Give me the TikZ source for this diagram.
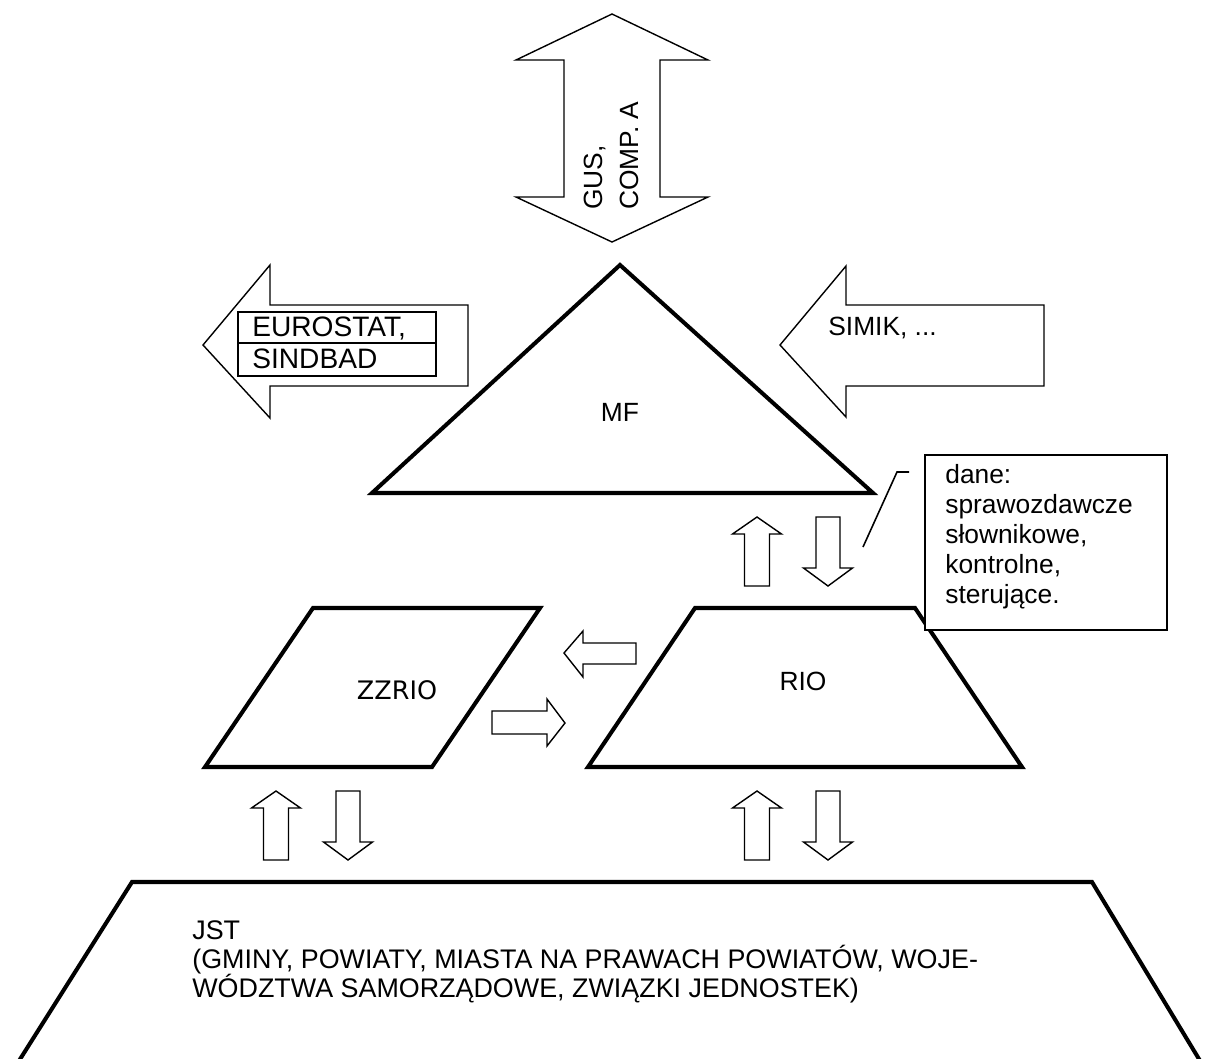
\documentclass[tikz,border=0pt]{standalone}
\usepackage{fontspec}
\setmainfont{Liberation Sans}
\newfontfamily\zzfont{DejaVu Sans}
\tikzset{every picture/.style={x=0.02cm, y=-0.02cm}}
\tikzset{
    blockarrow/.style={draw, line width=0.8pt, fill=white},
    unitshape/.style={draw, line width=2.3pt},
    lbl/.style={font=\fontsize{15}{17}\selectfont, inner sep=0pt},
}

\begin{document}
\begin{tikzpicture}
    \useasboundingbox (0,0) rectangle (1205,1059);

    % Double arrow to GUS
    \draw[blockarrow] (612,14) -- (708,60) -- (660,60) -- (660,197) -- (708,197) -- (612,242)
        -- (516,197) -- (564,197) -- (564,60) -- (516,60) -- cycle;
    \node[lbl, rotate=90, anchor=base west] (gus) at (602,210) {GUS,};
    \node[lbl, rotate=90, anchor=base west] (comp) at (638,210) {COMP. A};

    % Arrow out to EUROSTAT
    \draw[blockarrow] (203,345) -- (270,265) -- (270,305) -- (468,305) -- (468,386) -- (270,386) -- (270,418) -- cycle;
    \draw[line width=1.1pt] (238,312) rectangle (436,376);
    \draw[line width=1.1pt] (238,343) -- (436,343);
    \node[lbl, font=\fontsize{16}{17}\selectfont, anchor=base west] (eurostat) at (252,336) {EUROSTAT,};
    \node[lbl, font=\fontsize{16}{17}\selectfont, anchor=base west] (sindbad) at (252,368) {SINDBAD};

    % Arrow in from SIMIK
    \draw[blockarrow] (780,345) -- (846,266) -- (846,305) -- (1044,305) -- (1044,386) -- (846,386) -- (846,417) -- cycle;
    \node[lbl, anchor=base west] (simik) at (828,335) {SIMIK, ...};

    % MF triangle
    \draw[unitshape] (620,265) -- (873,493) -- (372,493) -- cycle;
    \node[lbl] (mf) at (620,412) {MF};

    % ZZRIO
    \draw[unitshape] (313,608) -- (540,608) -- (432,767) -- (205,767) -- cycle;
    \node[lbl, font=\zzfont\fontsize{14.5}{17}\selectfont] (zzrio) at (397,690) {ZZRIO};

    % RIO
    \draw[unitshape] (695,608) -- (915,608) -- (1022,767) -- (588,767) -- cycle;
    \node[lbl] (rio) at (803,681) {RIO};

    % JST
    \draw[unitshape] (17,1064) -- (132,882) -- (1092,882) -- (1202,1064);
    \node[lbl, font=\fontsize{15.3}{17}\selectfont, anchor=base west] (jst) at (192,939) {JST};
    \node[lbl, font=\fontsize{15.3}{17}\selectfont, anchor=base west] (jst2) at (192,968) {(GMINY, POWIATY, MIASTA NA PRAWACH POWIATÓW, WOJE-};
    \node[lbl, font=\fontsize{15.3}{17}\selectfont, anchor=base west] (jst3) at (192,997) {WÓDZTWA SAMORZĄDOWE, ZWIĄZKI JEDNOSTEK)};

    % Up and down arrows
    \foreach \x/\t in {757/517, 276/791, 757/791} {
        \draw[blockarrow] (\x,\t) -- (\x+24.5,\t+17) -- (\x+12.5,\t+17) -- (\x+12.5,\t+69)
            -- (\x-12.5,\t+69) -- (\x-12.5,\t+17) -- (\x-24.5,\t+17) -- cycle;
    }
    \foreach \x/\t in {828/517, 348/791, 828/791} {
        \draw[blockarrow] (\x-12,\t) -- (\x+12,\t) -- (\x+12,\t+51) -- (\x+24.5,\t+51)
            -- (\x,\t+69) -- (\x-24.5,\t+51) -- (\x-12,\t+51) -- cycle;
    }

    % Arrows between ZZRIO and RIO
    \draw[blockarrow] (564,653) -- (583,631) -- (583,643) -- (636,643) -- (636,664) -- (583,664) -- (583,677) -- cycle;
    \draw[blockarrow] (565,723) -- (547,746) -- (547,734) -- (492,734) -- (492,711) -- (547,711) -- (547,699) -- cycle;

    % Callout with the data kinds
    \draw[line width=0.9pt, fill=white] (925,455) rectangle (1167,630);
    \draw[line width=0.9pt] (909,472) -- (897,472) -- (863,547);
    \foreach \t [count=\i] in {dane:, sprawozdawcze, {słownikowe,}, {kontrolne,}, sterujące.} {
        \node[lbl, anchor=base west] (dane\i) at (945,483+30*\i-30) {\t};
    }
\end{tikzpicture}
\end{document}
